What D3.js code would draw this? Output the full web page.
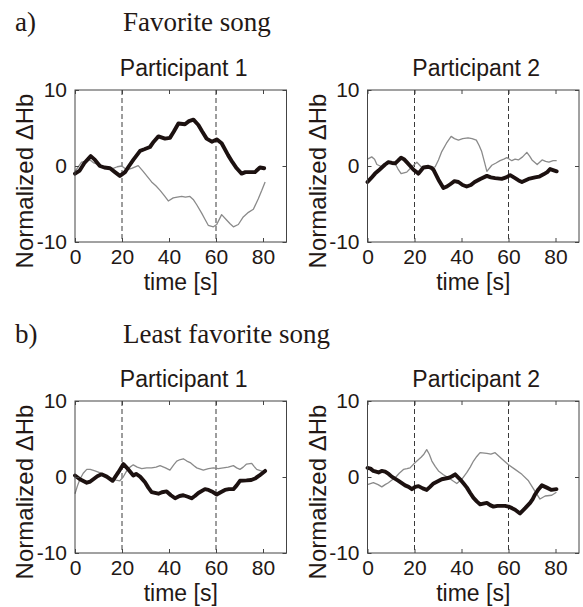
<!DOCTYPE html>
<html>
<head>
<meta charset="utf-8">
<script src="https://cdn.jsdelivr.net/npm/d3@7"></script>
<style>
  body { margin: 0; background: #fff; }
  svg { display: block; }
</style>
</head>
<body>
<div id="chart"></div>
<script>
// Values: [time (s), normalized dHb]
var favP1Black = [[0,-1.0],[2,-0.6],[4,0.4],[6.7,1.3],[8.5,0.8],[10.6,0],[12.5,-0.2],[14.9,-0.3],[17,-0.8],[19.1,-1.3],[21.3,-0.8],[23,0],[24.8,0.8],[27.7,2.0],[29.5,2.2],[31.9,2.5],[33.5,3.2],[35.5,3.9],[38.3,3.6],[40.4,3.7],[42,4.5],[44,5.6],[46.8,5.5],[48.5,5.9],[50.4,6.1],[52.5,5.4],[54,4.6],[56,3.6],[58.2,3.2],[60.3,3.5],[62.4,3.0],[65.2,1.4],[67,0.5],[68.8,-0.3],[70.9,-1.0],[72.5,-0.8],[74.5,-0.8],[76.6,-0.8],[78.7,-0.2],[80.5,-0.3]];
var favP1Gray = [[0,-0.7],[2.8,0.5],[4.5,0.6],[6.4,0.8],[8,0.4],[10.6,0.1],[13.5,-0.2],[16.3,-0.3],[18,-0.1],[19.9,0],[22,-0.5],[24.1,-0.3],[26.9,0.05],[29,-0.7],[30.8,-1.4],[32.6,-2.1],[34.4,-2.6],[36.2,-3.2],[38,-3.9],[39.7,-4.6],[41.8,-4.2],[43.5,-4.1],[45.4,-4.0],[47,-4.1],[48.9,-4.0],[50.3,-4.4],[51.8,-5.1],[53.9,-6.2],[55.3,-7.0],[56.7,-7.8],[58.9,-8.0],[60.3,-7.7],[62.4,-6.4],[64.5,-7.1],[66,-7.6],[67.4,-8.0],[69.5,-7.7],[71.6,-6.7],[73.8,-6.1],[75.9,-5.7],[78,-4.3],[79.5,-3.2],[80.9,-2.1]];

var favP2Black = [[0,-2.1],[1.5,-1.6],[3.2,-1.0],[4.7,-0.6],[6.1,-0.2],[7.5,0.2],[8.9,0.5],[10.4,0.4],[11.8,0.35],[13,0.7],[14.3,1.1],[15.5,0.9],[16.7,0.5],[18.2,0],[19.6,-0.5],[21.7,-1.0],[23.8,-0.2],[25.9,-0.1],[27,-0.2],[28.1,-0.5],[30.2,-1.8],[32.3,-2.9],[33.8,-2.7],[35.2,-2.4],[37,-2.0],[38.7,-2.1],[40.5,-2.5],[42.2,-2.7],[44,-2.5],[45.6,-2.1],[48,-1.7],[50.8,-1.3],[52.5,-1.5],[54.3,-1.6],[57.1,-1.7],[59,-1.5],[60.7,-1.2],[62.8,-1.6],[64.3,-1.9],[65.7,-2.1],[68.5,-1.7],[71.3,-1.5],[73,-1.4],[74.9,-1.1],[76.5,-0.8],[77.7,-0.4],[80.5,-0.7]];
var favP2Gray = [[0,0.9],[1.8,1.2],[3,0.9],[4,0.2],[6.1,-0.1],[7.5,0.2],[8.9,0.6],[10.4,0.4],[11.8,0.3],[13,-0.4],[14.3,-1.0],[16.7,-0.8],[18.9,-0.1],[21,0.5],[23.1,-0.2],[25.9,-0.3],[28.8,-0.1],[30.2,0.8],[31.6,1.9],[33.6,3.0],[35.6,3.9],[37,3.6],[38.7,3.4],[40.5,3.6],[42.8,3.7],[44.5,3.6],[46.3,3.4],[47.5,2.7],[48.6,1.9],[49.7,0.6],[50.8,-0.7],[52.9,0.1],[54.7,0.4],[56.4,0.7],[58,0.9],[59.3,1.1],[61.4,0.7],[62.8,0.9],[64.2,0.8],[66,1.2],[67.8,1.8],[69,1.3],[70,0.8],[72.2,0.2],[74.3,0.8],[75.8,0.6],[77.2,0.5],[79,0.7],[80.5,0.7]];

var leastP1Black = [[0,0.2],[2.1,-0.3],[5,-0.75],[6.5,-0.6],[7.8,-0.3],[9.5,0.1],[11.3,0.35],[13.5,0.05],[16,-0.5],[18.4,0.6],[20.6,1.7],[22.7,1.0],[24.8,0.2],[26,0.4],[27.7,0.05],[29.8,-0.7],[31.2,-1.4],[32.6,-2.0],[35.5,-2.2],[37,-2.0],[39,-1.9],[40.8,-2.4],[42.6,-2.8],[44.5,-2.5],[46.1,-2.4],[48,-2.6],[49.6,-2.8],[51,-2.5],[52.5,-2.1],[55.3,-1.6],[56.8,-1.7],[58.2,-1.9],[60.3,-2.3],[62,-2.0],[63.8,-1.7],[65.5,-1.6],[67.4,-1.6],[68.8,-1.1],[70.2,-0.5],[73,-0.45],[75,-0.4],[76.6,-0.2],[78.5,0.2],[80.9,0.8]];
var leastP1Gray = [[0,-2.2],[1,-1.2],[2.1,-0.3],[3.5,0.5],[5,1.0],[6.5,1.0],[8.5,0.8],[10.2,0.6],[12,0.35],[14,0.1],[15.6,-0.2],[17.5,-0.4],[19.1,-0.5],[20.5,0],[22,0.8],[23.4,1.3],[24.8,1.6],[26.5,1.3],[28.4,1.1],[30.5,1.2],[32.6,1.2],[34.5,1.3],[36.2,1.5],[38.5,1.2],[40.4,0.9],[42,1.6],[43.3,2.1],[44.8,2.3],[46.1,2.4],[47.6,2.1],[49,1.9],[50.5,1.5],[51.8,1.2],[54.6,0.9],[56.8,1.1],[58.9,1.2],[61,1.1],[63.1,1.2],[65.2,1.3],[67.4,1.5],[68.8,1.2],[70.2,1.0],[71.6,1.3],[73,1.7],[75.2,1.8],[76.2,1.4],[77.3,1.0],[80.1,0.7]];

var leastP2Black = [[0,1.2],[1.3,1.1],[2.5,0.8],[4.7,0.6],[6,0.8],[7.5,0.7],[9,0.4],[10.3,0.05],[13.2,-0.5],[16,-1.1],[17.5,-1.3],[18.9,-1.6],[20.3,-1.3],[21.7,-1.2],[23.5,-1.5],[25.2,-1.7],[26.6,-1.3],[28.1,-0.85],[31.6,-0.3],[34.7,-0.1],[36,0.1],[37.3,0.35],[39.4,-0.3],[41,-0.9],[42.3,-1.4],[43.7,-2.1],[45.1,-2.75],[46.5,-3.2],[47.9,-3.6],[49.3,-3.5],[50.8,-3.4],[52.2,-3.7],[53.6,-3.9],[55.3,-3.8],[57.1,-3.8],[58.5,-3.8],[60,-3.9],[61.5,-4.1],[62.8,-4.3],[64.9,-4.8],[67.1,-4.1],[69.2,-3.4],[70.3,-2.9],[71.3,-2.3],[72.8,-1.6],[74.2,-1.1],[76.3,-1.4],[78.3,-1.7],[80.4,-1.6]];
var leastP2Gray = [[0,-1.0],[2.5,-0.75],[4.5,-1.0],[6.1,-1.3],[7.5,-1.0],[8.9,-0.75],[10.4,-0.4],[11.8,-0.1],[13.5,0.5],[15.3,1.0],[16.8,1.1],[18.1,1.2],[20.3,1.9],[22.8,2.6],[24,3.0],[25.2,3.6],[26.3,3.0],[27.4,2.1],[28.8,1.4],[30.2,0.8],[32.3,0.3],[34.5,-0.1],[36.3,-0.5],[38,-0.85],[40.1,-0.3],[42.3,0.6],[43.7,1.3],[45.1,2.1],[46.5,2.7],[47.9,3.2],[50.8,3.1],[52.5,3.0],[54.3,3.2],[55.7,2.8],[57.1,2.4],[60,1.6],[62.8,1.0],[65.7,0.35],[68.5,-0.5],[71.3,-1.9],[73.4,-2.9],[75.6,-2.5],[78.4,-2.4],[80.4,-2.0]];

var xTicks = [0, 20, 40, 60, 80];
var yTicks = [-10, 0, 10];
var markers = [20, 60];   // dashed lines
var sections = [["a)", "Favorite song"], ["b)", "Least favorite song"]];
var participants = ["Participant 1", "Participant 2"];

var sans = "'Liberation Sans', Arial, sans-serif";
var serif = "'Liberation Serif', 'Times New Roman', serif";

var svg = d3.select("#chart")
    .append("svg")
    .attr("width", 583)
    .attr("height", 607);

// section headings
var secTop = [31, 343];
sections.forEach(function (s, i) {
    svg.append("text").attr("x", 15).attr("y", secTop[i])
        .style("font-family", serif).style("font-size", "27px").attr("fill", "#231815")
        .text(s[0]);
    svg.append("text").attr("x", 123).attr("y", secTop[i])
        .style("font-family", serif).style("font-size", "27px").attr("fill", "#231815")
        .text(s[1]);
});

function drawPanel(left, top, title, gray, black) {
    var w = 211.5, h = 152;
    var x = d3.scaleLinear().domain([0, 90]).range([left, left + w]);
    var y = d3.scaleLinear().domain([-10, 10]).range([top + h, top]);
    var g = svg.append("g");

    // title
    g.append("text")
        .attr("x", left + w / 2 + 3).attr("y", top - 14)
        .attr("text-anchor", "middle")
        .style("font-family", sans).style("font-size", "23px").attr("fill", "#231815")
        .text(title);

    // dashed markers
    g.selectAll(".mark").data(markers).enter().append("line")
        .attr("x1", function (d) { return x(d) }).attr("x2", function (d) { return x(d) })
        .attr("y1", top).attr("y2", top + h)
        .attr("stroke", "#3a3a3a").attr("stroke-width", 1)
        .attr("stroke-dasharray", "5,3");

    // lines
    var line = d3.line()
        .x(function (d) { return x(d[0]) })
        .y(function (d) { return y(d[1]) });

    g.append("path").datum(gray)
        .attr("fill", "none").attr("stroke", "#8a8a8a").attr("stroke-width", 1.3)
        .attr("stroke-linejoin", "round")
        .attr("d", line);

    g.append("path").datum(black)
        .attr("fill", "none").attr("stroke", "#1c1110").attr("stroke-width", 3.9)
        .attr("stroke-linejoin", "round").attr("stroke-linecap", "round")
        .attr("d", line);

    // axes (ticks pointing inward like MATLAB)
    var bottom = g.append("g")
        .attr("transform", "translate(0," + (top + h) + ")")
        .call(d3.axisBottom(x).tickValues(xTicks).tickSizeInner(-4).tickSizeOuter(0).tickPadding(7));
    var topAx = g.append("g")
        .attr("transform", "translate(0," + top + ")")
        .call(d3.axisTop(x).tickValues(xTicks).tickSizeInner(-4).tickSizeOuter(0).tickFormat(""));
    var leftAx = g.append("g")
        .attr("transform", "translate(" + left + ",0)")
        .call(d3.axisLeft(y).tickValues(yTicks).tickSizeInner(-4).tickSizeOuter(0).tickPadding(8)
            .tickFormat(d3.format("d")));
    var rightAx = g.append("g")
        .attr("transform", "translate(" + (left + w) + ",0)")
        .call(d3.axisRight(y).tickValues(yTicks).tickSizeInner(-4).tickSizeOuter(0).tickFormat(""));

    [bottom, topAx, leftAx, rightAx].forEach(function (a) {
        a.select(".domain").remove();
        a.selectAll("line").attr("stroke", "#444");
        a.selectAll("text")
            .style("font-family", sans).style("font-size", "21px").attr("fill", "#231815");
    });
    leftAx.selectAll("text").text(function (d) { return d < 0 ? "-" + Math.abs(d) : d });

    // frame
    g.append("rect")
        .attr("x", left).attr("y", top).attr("width", w).attr("height", h)
        .attr("fill", "none").attr("stroke", "#444").attr("stroke-width", 1);

    // axis labels
    g.append("text")
        .attr("x", left + w / 2).attr("y", top + h + 48)
        .attr("text-anchor", "middle")
        .style("font-family", sans).style("font-size", "23px").attr("fill", "#231815")
        .text("time [s]");

    g.append("text")
        .attr("transform", "translate(" + (left - 42) + "," + (top + 91) + ") rotate(-90)")
        .attr("text-anchor", "middle")
        .style("font-family", sans).style("font-size", "24px").attr("fill", "#231815")
        .text("Normalized \u0394Hb");
}

drawPanel(75, 90, participants[0], favP1Gray, favP1Black);
drawPanel(367.5, 90, participants[1], favP2Gray, favP2Black);
drawPanel(75, 401, participants[0], leastP1Gray, leastP1Black);
drawPanel(367.5, 401, participants[1], leastP2Gray, leastP2Black);
</script>
</body>
</html>
